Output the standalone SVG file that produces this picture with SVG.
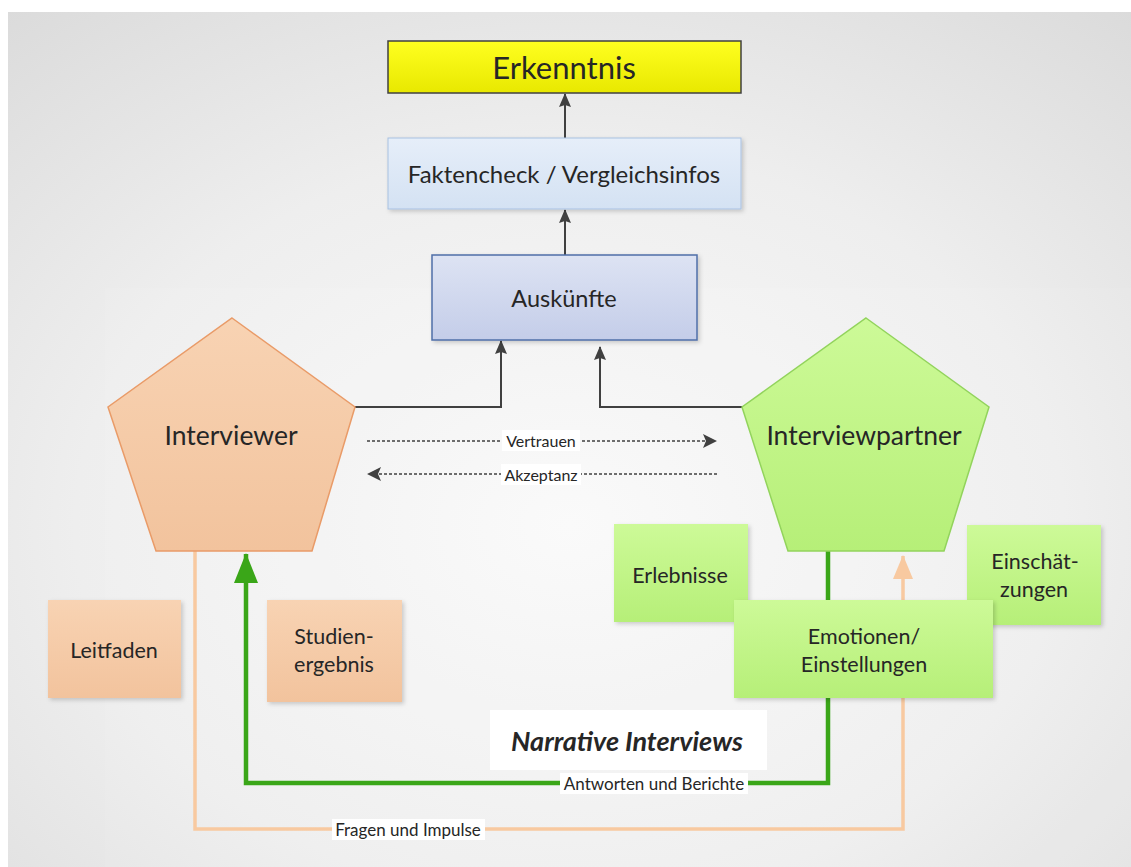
<svg xmlns="http://www.w3.org/2000/svg" width="1131" height="867" viewBox="0 0 1131 867">
  <defs>
    <radialGradient id="bg" cx="0.5" cy="0.6" r="0.8">
      <stop offset="0" stop-color="#fafafa"/>
      <stop offset="0.55" stop-color="#eeeeee"/>
      <stop offset="1" stop-color="#dadada"/>
    </radialGradient>
    <linearGradient id="yellow" x1="0" y1="0" x2="0" y2="1">
      <stop offset="0" stop-color="#ffff20"/>
      <stop offset="1" stop-color="#e8e800"/>
    </linearGradient>
    <linearGradient id="lightblue" x1="0" y1="0" x2="0" y2="1">
      <stop offset="0" stop-color="#e6eef9"/>
      <stop offset="1" stop-color="#d4e2f3"/>
    </linearGradient>
    <linearGradient id="blue" x1="0" y1="0" x2="0" y2="1">
      <stop offset="0" stop-color="#dde3f3"/>
      <stop offset="1" stop-color="#c4cde9"/>
    </linearGradient>
    <linearGradient id="orange" x1="0" y1="0" x2="0" y2="1">
      <stop offset="0" stop-color="#f8d3b3"/>
      <stop offset="1" stop-color="#f2c39d"/>
    </linearGradient>
    <linearGradient id="green" x1="0" y1="0" x2="0" y2="1">
      <stop offset="0" stop-color="#cdfa98"/>
      <stop offset="1" stop-color="#b6ef78"/>
    </linearGradient>
    <filter id="shadow" x="-10%" y="-10%" width="130%" height="130%">
      <feDropShadow dx="2" dy="2" stdDeviation="2" flood-color="#000" flood-opacity="0.18"/>
    </filter>
    <marker id="arrDark" viewBox="0 0 14 12" refX="13" refY="6" markerWidth="14" markerHeight="12" markerUnits="userSpaceOnUse" orient="auto">
      <path d="M0,0 L14,6 L0,12 L2,6 Z" fill="#404040"/>
    </marker>
    <marker id="arrDash" viewBox="0 0 14 14" refX="13" refY="7" markerWidth="14" markerHeight="14" markerUnits="userSpaceOnUse" orient="auto">
      <path d="M0,0 L14,7 L0,14 L3,7 Z" fill="#404040"/>
    </marker>
    <marker id="arrGreen" viewBox="0 0 30 24" refX="29" refY="12" markerWidth="30" markerHeight="24" markerUnits="userSpaceOnUse" orient="auto">
      <path d="M0,0 L30,12 L0,24 Z" fill="#3aa618"/>
    </marker>
    <marker id="arrOrange" viewBox="0 0 24 20" refX="23" refY="10" markerWidth="24" markerHeight="20" markerUnits="userSpaceOnUse" orient="auto">
      <path d="M0,0 L24,10 L0,20 Z" fill="#f8c9a0"/>
    </marker>
  </defs>
  <style>
    text { font-family: Lato, "Open Sans", "Liberation Sans", sans-serif; fill: #262626; text-anchor: middle; dominant-baseline: central; }
    .box { filter: url(#shadow); }
    .lbl { font-size: 16px; }
    .flow { font-size: 17px; }
    .name { font-size: 26.5px; }
    .small { font-size: 21.5px; }
    .lblbg { fill: #ffffff; }
  </style>

  <!-- backdrop -->
  <rect x="0" y="0" width="1131" height="867" fill="#ffffff"/>
  <rect x="8" y="12" width="1123" height="855" fill="url(#bg)"/>
  <rect x="105" y="288" width="1026" height="579" fill="#ffffff" opacity="0.08"/>

  <!-- connectors -->
  <g id="connectors" fill="none">
    <line x1="565" y1="138" x2="565" y2="94" stroke="#404040" stroke-width="2" marker-end="url(#arrDark)"/>
    <line x1="565" y1="255" x2="565" y2="210" stroke="#404040" stroke-width="2" marker-end="url(#arrDark)"/>
    <polyline points="355,407 501,407 501,341" stroke="#404040" stroke-width="2" marker-end="url(#arrDark)"/>
    <polyline points="743,407 600,407 600,347" stroke="#404040" stroke-width="2" marker-end="url(#arrDark)"/>

    <line x1="367" y1="441" x2="716" y2="441" stroke="#404040" stroke-width="1.3" stroke-dasharray="3,2" marker-end="url(#arrDash)"/>
    <line x1="717" y1="474" x2="368" y2="474" stroke="#404040" stroke-width="1.3" stroke-dasharray="3,2" marker-end="url(#arrDash)"/>
    <rect class="lblbg" x="502" y="430" width="78" height="21"/>
    <text class="lbl" x="541" y="440">Vertrauen</text>
    <rect class="lblbg" x="501" y="464" width="80" height="21"/>
    <text class="lbl" x="541" y="474">Akzeptanz</text>

    <polyline points="195,550 195,829 903,829 903,556" stroke="#f8c9a0" stroke-width="3.5" marker-end="url(#arrOrange)"/>
    <polyline points="828,550 828,783 246,783 246,554" stroke="#3aa618" stroke-width="4.5" marker-end="url(#arrGreen)"/>
  </g>

  <!-- top chain -->
  <g id="erkenntnis">
    <rect x="388" y="41" width="353" height="52" fill="url(#yellow)" stroke="#404040" stroke-width="1.5"/>
    <text x="564" y="67" font-size="31">Erkenntnis</text>
  </g>
  <g id="faktencheck">
    <rect class="box" x="388" y="138" width="353" height="71" fill="url(#lightblue)" stroke="#a8c1e2" stroke-width="1"/>
    <text x="564" y="173" font-size="24">Faktencheck / Vergleichsinfos</text>
  </g>
  <g id="auskuenfte">
    <rect class="box" x="432" y="255" width="265" height="85" fill="url(#blue)" stroke="#4f6fa8" stroke-width="1.5"/>
    <text x="564" y="298" font-size="23.5">Auskünfte</text>
  </g>

  <!-- interviewer side -->
  <g id="interviewer">
    <polygon points="232,318 355,407 312,551 156,551 108,407" fill="url(#orange)" stroke="#e99b68" stroke-width="1.5"/>
    <text class="name" x="231" y="435">Interviewer</text>
  </g>
  <g id="leitfaden">
    <rect class="box" x="48" y="600" width="133" height="98" fill="url(#orange)"/>
    <text class="small" x="114" y="650">Leitfaden</text>
  </g>
  <g id="studienergebnis">
    <rect class="box" x="267" y="600" width="135" height="102" fill="url(#orange)"/>
    <text class="small" x="334" y="636">Studien-</text>
    <text class="small" x="334" y="664">ergebnis</text>
  </g>

  <!-- partner side -->
  <g id="interviewpartner">
    <polygon points="866,318 989,407 944,551 788,551 742,407" fill="url(#green)" stroke="#92d35c" stroke-width="1.5"/>
    <text class="name" x="864" y="435">Interviewpartner</text>
  </g>
  <g id="erlebnisse">
    <rect class="box" x="614" y="524" width="134" height="98" fill="url(#green)"/>
    <text class="small" x="680" y="575">Erlebnisse</text>
  </g>
  <g id="einschaetzungen">
    <rect class="box" x="967" y="525" width="134" height="100" fill="url(#green)"/>
    <text class="small" x="1035" y="561">Einschät-</text>
    <text class="small" x="1034" y="589">zungen</text>
  </g>
  <g id="emotionen">
    <rect class="box" x="734" y="600" width="259" height="98" fill="url(#green)"/>
    <text class="small" x="864" y="636">Emotionen/</text>
    <text class="small" x="864" y="664">Einstellungen</text>
  </g>

  <!-- caption -->
  <g id="narrative">
    <rect x="490" y="710" width="277" height="60" fill="#ffffff"/>
    <text x="627" y="740" font-size="27" font-weight="bold" font-style="italic" fill="#111">Narrative Interviews</text>
  </g>

  <!-- flow labels -->
  <g id="flow-labels">
    <rect class="lblbg" x="560" y="773" width="188" height="21"/>
    <text class="flow" x="654" y="783">Antworten und Berichte</text>
    <rect class="lblbg" x="332" y="819" width="153" height="21"/>
    <text class="flow" x="408" y="829">Fragen und Impulse</text>
  </g>
</svg>
